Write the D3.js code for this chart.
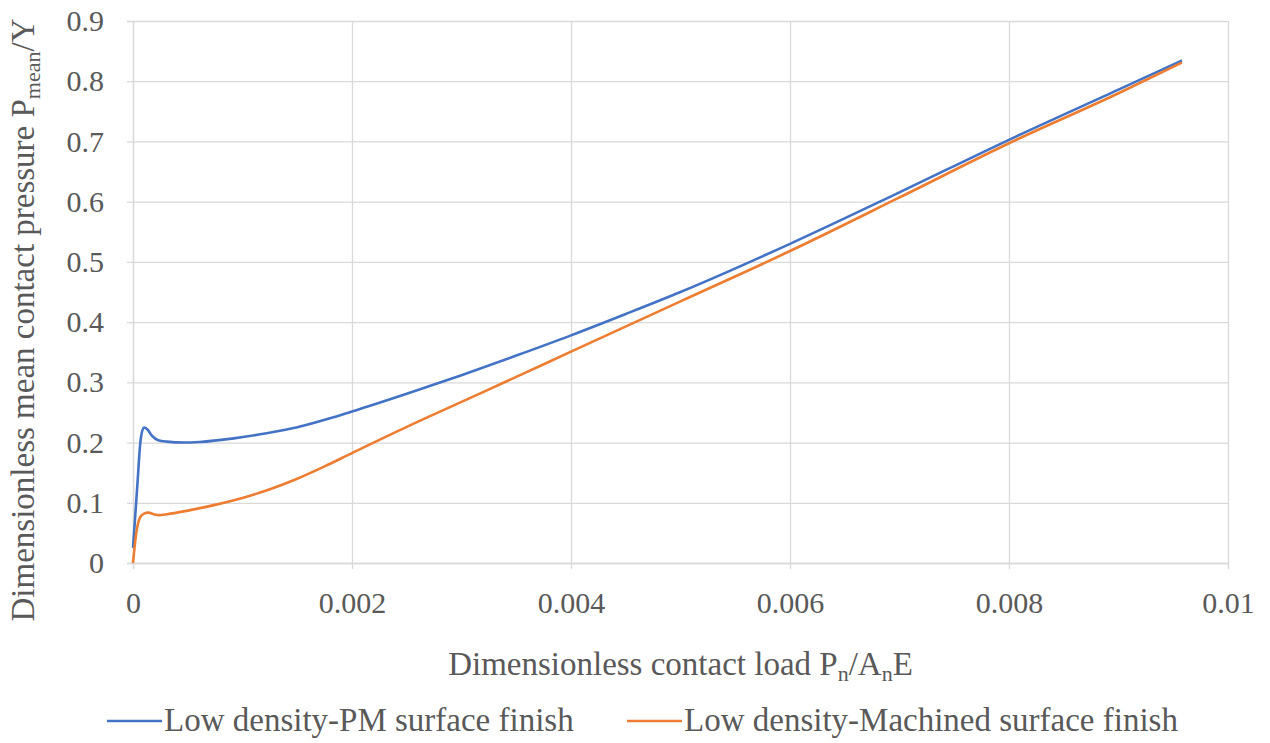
<!DOCTYPE html>
<html>
<head>
<meta charset="utf-8">
<script src="https://cdn.jsdelivr.net/npm/d3@7"></script>
<style>
  body { margin: 0; background: #fff; }
  svg text { font-family: "Liberation Serif", "DejaVu Serif", "Times New Roman", Times, serif; }
</style>
</head>
<body>
<svg id="chart" width="1270" height="743"></svg>
<script>
// PM surface finish (blue)
const pmLoad = [0, 0.00004, 0.00007, 0.0001, 0.00013, 0.00017, 0.00023, 0.00031, 0.00046, 0.00061,
  0.00092, 0.00122, 0.0015, 0.00183, 0.002, 0.0025, 0.003, 0.0035, 0.004, 0.0045,
  0.005, 0.006, 0.007, 0.008, 0.009, 0.00958];
const pmPressure = [0.025, 0.13, 0.205, 0.225, 0.222, 0.212, 0.204, 0.2015, 0.2, 0.201,
  0.207, 0.2155, 0.2255, 0.242, 0.2515, 0.281, 0.3118, 0.3444, 0.378, 0.4135,
  0.45, 0.53, 0.6155, 0.7027, 0.786, 0.8345];

// Machined surface finish (orange)
const machLoad = [0, 0.00003, 0.00006, 0.0001, 0.00014, 0.00019, 0.00024, 0.00031, 0.0005, 0.00075,
  0.001, 0.00125, 0.0015, 0.00175, 0.002, 0.0025, 0.003, 0.0035, 0.004, 0.005,
  0.006, 0.007, 0.008, 0.009, 0.00958];
const machPressure = [0, 0.05, 0.074, 0.082, 0.0836, 0.081, 0.0795, 0.081, 0.087, 0.0965,
  0.108, 0.1225, 0.14, 0.1605, 0.1825, 0.226, 0.2675, 0.309, 0.351, 0.4345,
  0.518, 0.607, 0.697, 0.78, 0.831];

const xTicks = [0, 0.002, 0.004, 0.006, 0.008, 0.01];
const xTickLabels = ["0", "0.002", "0.004", "0.006", "0.008", "0.01"];
const yTicks = [0, 0.1, 0.2, 0.3, 0.4, 0.5, 0.6, 0.7, 0.8, 0.9];
const yTickLabels = ["0", "0.1", "0.2", "0.3", "0.4", "0.5", "0.6", "0.7", "0.8", "0.9"];

const seriesNames = ["Low density-PM surface finish", "Low density-Machined surface finish"];
const colors = ["#4472C4", "#ED7D31"];

const margin = { top: 21, right: 42, bottom: 180, left: 133 },
  width = 1270 - margin.left - margin.right,
  height = 743 - margin.top - margin.bottom;

const textColor = "#595959", gridColor = "#d9d9d9";

const svg = d3.select("#chart");
const g = svg.append("g").attr("transform", `translate(${margin.left},${margin.top})`);

const x = d3.scaleLinear([0, 0.01], [0, width]);
const y = d3.scaleLinear([0, 0.9], [height, 0]);

// grid lines
g.append("g")
  .call(d3.axisLeft(y).tickValues(yTicks).tickSize(-width).tickFormat(""))
  .call((s) => s.select(".domain").remove())
  .call((s) => s.selectAll(".tick line").attr("stroke", gridColor).attr("stroke-width", 1.3));
g.append("g")
  .attr("transform", `translate(0,${height})`)
  .call(d3.axisBottom(x).tickValues(xTicks).tickSize(-height).tickFormat(""))
  .call((s) => s.select(".domain").remove())
  .call((s) => s.selectAll(".tick line").attr("stroke", gridColor).attr("stroke-width", 1.3));

// y axis ticks + labels
g.append("g")
  .call(d3.axisLeft(y).tickValues(yTicks).tickSize(6).tickPadding(23)
    .tickFormat((d, i) => yTickLabels[i]))
  .call((s) => s.attr("font-family", null).attr("font-size", null))
  .call((s) => s.select(".domain").attr("stroke", gridColor).attr("stroke-width", 1.3))
  .call((s) => s.selectAll(".tick line").attr("stroke", gridColor).attr("stroke-width", 1.3))
  .call((s) => s.selectAll(".tick text").attr("fill", textColor).style("font-size", "30px"));

// x axis ticks + labels
g.append("g")
  .attr("transform", `translate(0,${height})`)
  .call(d3.axisBottom(x).tickValues(xTicks).tickSize(6).tickPadding(23)
    .tickFormat((d, i) => xTickLabels[i]))
  .call((s) => s.attr("font-family", null).attr("font-size", null))
  .call((s) => s.select(".domain").attr("stroke", gridColor).attr("stroke-width", 1.3))
  .call((s) => s.selectAll(".tick line").attr("stroke", gridColor).attr("stroke-width", 1.3))
  .call((s) => s.selectAll(".tick text").attr("fill", textColor).style("font-size", "30px"));

// series lines
const line = d3.line()
  .x((d) => x(d[0]))
  .y((d) => y(d[1]))
  .curve(d3.curveMonotoneX);

const series = [
  d3.zip(pmLoad, pmPressure),
  d3.zip(machLoad, machPressure),
];
series.forEach((data, i) => {
  g.append("path")
    .attr("fill", "none")
    .attr("stroke", colors[i])
    .attr("stroke-width", 2.6)
    .attr("stroke-linejoin", "round")
    .attr("d", line(data));
});

// axis titles
const xTitle = svg.append("text")
  .attr("x", margin.left + width / 2)
  .attr("y", 675)
  .attr("text-anchor", "middle")
  .attr("fill", textColor)
  .style("font-size", "33px");
xTitle.append("tspan").text("Dimensionless contact load P");
xTitle.append("tspan").attr("dy", 6).style("font-size", "22px").text("n");
xTitle.append("tspan").attr("dy", -6).text("/A");
xTitle.append("tspan").attr("dy", 6).style("font-size", "22px").text("n");
xTitle.append("tspan").attr("dy", -6).text("E");

const yTitle = svg.append("text")
  .attr("transform", `translate(34,${margin.top + height / 2 + 28}) rotate(-90)`)
  .attr("text-anchor", "middle")
  .attr("fill", textColor)
  .style("font-size", "33px");
yTitle.append("tspan").text("Dimensionless mean contact pressure P");
yTitle.append("tspan").attr("dy", 6).style("font-size", "22px").text("mean");
yTitle.append("tspan").attr("dy", -6).text("/Y");

// legend
const legendItems = [
  { x: 107, name: seriesNames[0], color: colors[0] },
  { x: 627, name: seriesNames[1], color: colors[1] },
];
const legend = svg.append("g").attr("transform", "translate(0,721)");
legendItems.forEach((d) => {
  legend.append("line")
    .attr("x1", d.x).attr("x2", d.x + 55)
    .attr("y1", 0).attr("y2", 0)
    .attr("stroke", d.color)
    .attr("stroke-width", 2.6);
  legend.append("text")
    .attr("x", d.x + 57)
    .attr("y", 10)
    .attr("fill", textColor)
    .style("font-size", "33px")
    .text(d.name);
});
</script>
</body>
</html>
